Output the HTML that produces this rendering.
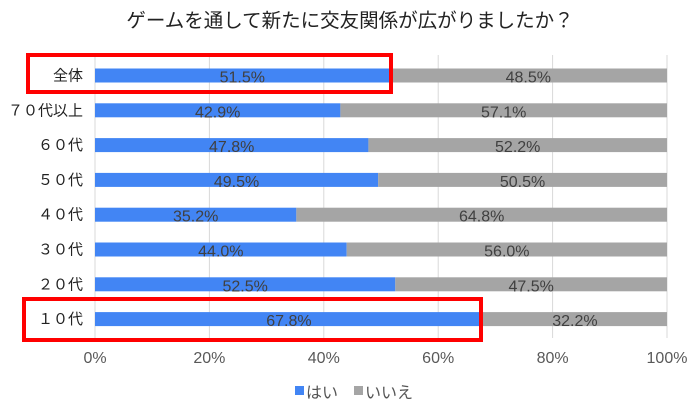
<!DOCTYPE html>
<html><head><meta charset="utf-8"><style>
body{margin:0;background:#fff;width:700px;height:414px;overflow:hidden;font-family:"Liberation Sans","Noto Sans CJK JP",sans-serif}
svg text{font-family:"Liberation Sans","Noto Sans CJK JP",sans-serif}
</style></head><body>
<svg id="c" width="700" height="414">
<text x="350" y="27" text-anchor="middle" font-size="19.5" fill="#222">ゲームを通して新たに交友関係が広がりましたか？</text>
<g id="grid"></g><g id="bars"></g><g id="labels"></g>
<g>
<rect x="295" y="386" width="9" height="9" fill="#4285f4"/>
<text x="306" y="398" font-size="16" fill="#555">はい</text>
<rect x="354" y="386" width="9" height="9" fill="#a5a5a5"/>
<text x="365" y="398" font-size="16" fill="#555">いいえ</text>
</g>
<rect x="28" y="55" width="363" height="37" fill="none" stroke="#f00" stroke-width="4"/>
<rect x="24" y="299" width="457" height="41" fill="none" stroke="#f00" stroke-width="4"/>
</svg>
<script>
const categories=["全体","７０代以上","６０代","５０代","４０代","３０代","２０代","１０代"];
const yesValues=[51.5,42.9,47.8,49.5,35.2,44.0,52.5,67.8];
const noValues=[48.5,57.1,52.2,50.5,64.8,56.0,47.5,32.2];
const tickValues=[0,20,40,60,80,100];
const NS="http://www.w3.org/2000/svg";
const x0=95,x1=667,yTop=75.5,step=34.8,bh=14;
const xs=v=>x0+(x1-x0)*v/100;
const yc=i=>yTop+i*step;
function mk(t,a,p){const e=document.createElementNS(NS,t);for(const k in a)e.setAttribute(k,a[k]);p.appendChild(e);return e;}
const grid=document.getElementById('grid'),bars=document.getElementById('bars'),labels=document.getElementById('labels');
tickValues.forEach(v=>{
 const l=mk('line',{x1:xs(v),x2:xs(v),y1:55,y2:338,stroke:'#d9d9d9','stroke-width':1},grid);
 
 
 const t=mk('text',{x:xs(v),y:363,'text-anchor':'middle','font-size':16,fill:'#595959'},labels);
 t.textContent=v+'%';
 
 
});
categories.forEach((c,i)=>{
 const y=yc(i);
 const t=mk('text',{x:83,y:y+5,'text-anchor':'end','font-size':15,fill:'#222'},labels);
 t.textContent=c;
 
 
 const a=mk('rect',{x:xs(0),y:y-bh/2,width:xs(yesValues[i])-xs(0),height:bh,fill:'#4285f4'},bars);
 
 
 const b=mk('rect',{x:xs(yesValues[i]),y:y-bh/2,width:xs(yesValues[i]+noValues[i])-xs(yesValues[i]),height:bh,fill:'#a5a5a5'},bars);
 
 
 const ta=mk('text',{x:(xs(0)+xs(yesValues[i]))/2,y:y+7,'text-anchor':'middle','font-size':16,fill:'#404040'},labels);
 ta.textContent=yesValues[i].toFixed(1)+'%';
 
 
 const tb=mk('text',{x:(xs(yesValues[i])+xs(yesValues[i]+noValues[i]))/2,y:y+7,'text-anchor':'middle','font-size':16,fill:'#404040'},labels);
 tb.textContent=noValues[i].toFixed(1)+'%';
 
 
});
</script>
</body></html>
